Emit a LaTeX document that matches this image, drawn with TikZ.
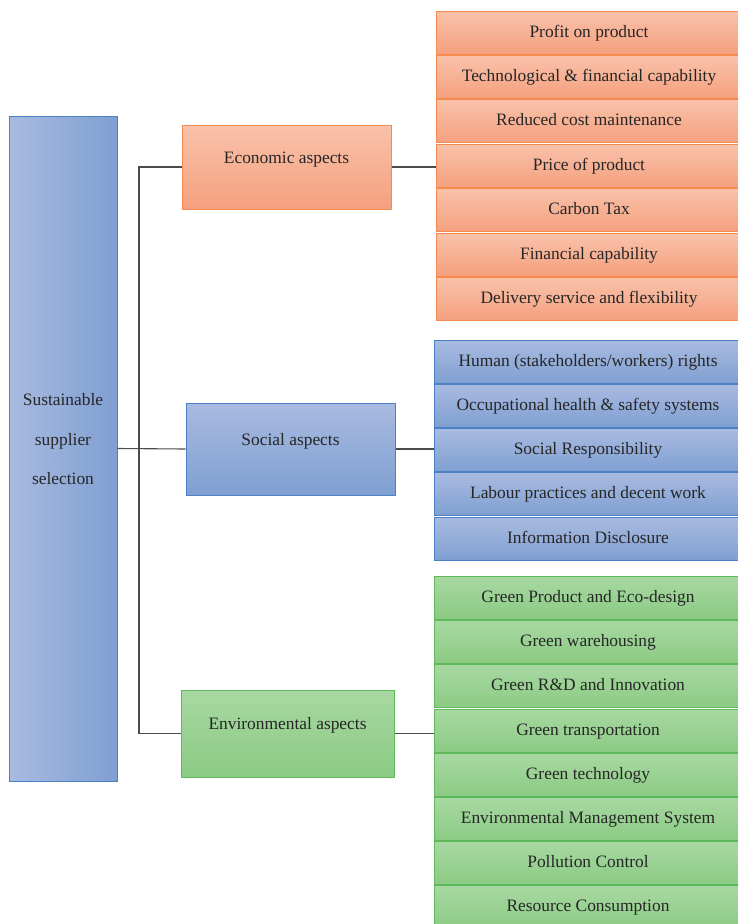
\documentclass[tikz,border=0pt]{standalone}
\usepackage{fontspec}
\setmainfont{Liberation Serif}
\usetikzlibrary{positioning}

\definecolor{ecoTop}{HTML}{F9C2AA}
\definecolor{ecoBot}{HTML}{F5A07E}
\definecolor{ecoLine}{HTML}{F68B4E}
\definecolor{socTop}{HTML}{A9BBE1}
\definecolor{socBot}{HTML}{7F9FD1}
\definecolor{socLine}{HTML}{4A80C4}
\definecolor{envTop}{HTML}{A8D8A2}
\definecolor{envBot}{HTML}{8BCB83}
\definecolor{envLine}{HTML}{5DB95A}
\definecolor{txt}{HTML}{262626}

\tikzset{
    box/.style={draw, rectangle, line width=1pt, text=txt, inner sep=0pt},
    ecobox/.style={box, draw=ecoLine, top color=ecoTop, bottom color=ecoBot},
    socbox/.style={box, draw=socLine, top color=socTop, bottom color=socBot},
    envbox/.style={box, draw=envLine, top color=envTop, bottom color=envBot},
    leaf/.style={minimum width=306pt, minimum height=43pt, text height=12pt, text depth=3pt},
    aspect/.style={text height=12pt, text depth=20pt},
    link/.style={draw=black!70, line width=1.1pt}
}

\begin{document}
\begin{tikzpicture}[x=1pt, y=-1pt, font=\fontsize{17.4}{20}\selectfont]
    \path[use as bounding box] (0,0) rectangle (738,924);
    \clip (0,0) rectangle (738,924);
    % root
    \node[box, draw=socLine, left color=socTop, right color=socBot, minimum width=108pt, minimum height=665pt,
          align=center, font=\fontsize{17.4}{39.5}\selectfont, text height=91pt, text depth=19pt]
          (main) at (63,448.5) {Sustainable\\supplier\\selection};
    % three aspects
    \node[ecobox, aspect, minimum width=209pt, minimum height=84pt] (eco) at (286.5,167) {Economic aspects};
    \node[socbox, aspect, minimum width=209pt, minimum height=92pt] (soc) at (290.5,449) {Social aspects};
    \node[envbox, aspect, minimum width=213pt, minimum height=87pt] (env) at (287.5,733.5) {Environmental aspects};
    % economic criteria
    \foreach \t [count=\i] in {Profit on product, Technological \& financial capability, Reduced cost maintenance,
                               Price of product, Carbon Tax, Financial capability, Delivery service and flexibility} {
        \node[ecobox, leaf] (E\i) at (589,32.5+\i*44.4-44.4) {\t};
    }
    % social criteria
    \foreach \t [count=\i] in {Human (stakeholders/workers) rights, Occupational health \& safety systems,
                               Social Responsibility, Labour practices and decent work, Information Disclosure} {
        \node[socbox, leaf, minimum width=308pt] (S\i) at (588,361.5+\i*44.25-44.25) {\t};
    }
    % environmental criteria
    \foreach \t [count=\i] in {Green Product and Eco-design, Green warehousing, Green R\&D and Innovation,
                               Green transportation, Green technology, Environmental Management System,
                               Pollution Control, Resource Consumption} {
        \node[envbox, leaf, minimum width=308pt] (G\i) at (588,598+\i*44.2-44.2) {\t};
    }
    % connectors
    \coordinate (bus) at (139,449);
    \draw[link] (eco.west) -| (bus) |- (env.west);
    \draw[link] (main.east) -- (soc.west);
    \draw[link] (eco.east) -- (eco.east -| E4.west);
    \draw[link] (soc.east) -- (soc.east -| S3.west);
    \draw[link] (env.east) -- (env.east -| G4.west);
\end{tikzpicture}
\end{document}
